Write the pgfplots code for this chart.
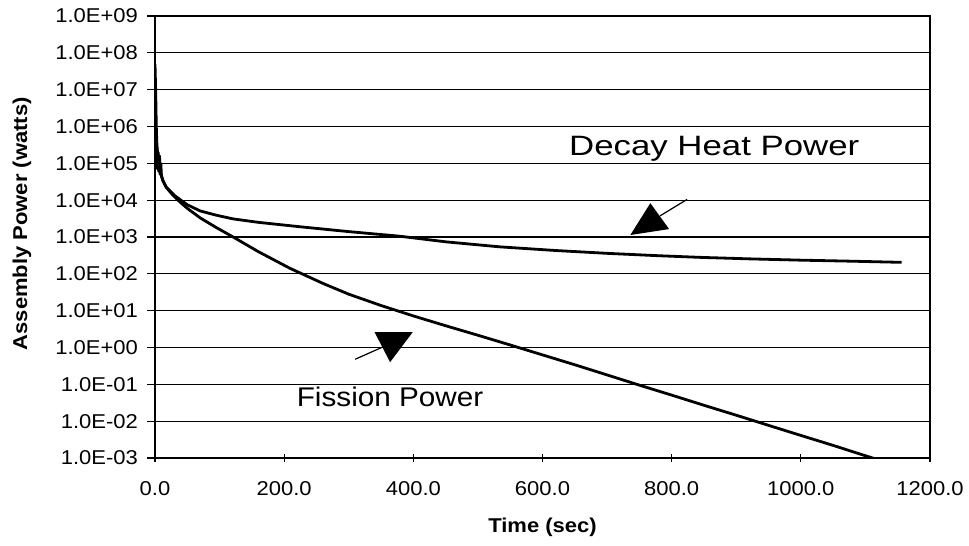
\documentclass[border=0pt]{standalone}
\usepackage{fontspec}
\setmainfont{Liberation Sans}[FakeStretch=1.1]
\usepackage{graphicx}
\usepackage{pgfplots}
\pgfplotsset{compat=1.18}

\pgfplotstableread{
t P
0 5e7
1 1e7
2 1e6
3 3e5
5 1.2e5
8 6e4
12 3.5e4
17 2.3e4
23 1.7e4
30 1.25e4
40 8.5e3
50 6e3
70 3.3e3
95 1.8e3
121 1e3
160 4e2
209 1.41e2
260 5.5e1
300 2.8e1
350 1.38e1
400 7.2
450 3.9
500 2.15
550 1.17
600 0.63
650 0.34
700 0.18
750 0.095
800 0.051
850 0.027
900 0.0145
950 0.0077
1000 0.0041
1050 0.0022
1100 0.00115
1153 0.00059
}\fission

\pgfplotstableread{
t P
0 1e5
0.5 3e5
1 1e5
1.5 2.5e5
2 8e4
3 2.8e5
4 7e4
5 2e5
6 6e4
7 1.6e5
8 5e4
9 1e5
10 4.5e4
12 3.5e4
17 2.3e4
23 1.8e4
30 1.35e4
40 1e4
50 7.5e3
70 5.1e3
95 3.9e3
121 3.1e3
160 2.5e3
224 1.9e3
300 1.4e3
379 1.05e3
450 7.4e2
534 5.4e2
620 4.3e2
700 3.6e2
780 3.1e2
844 2.8e2
920 2.55e2
1000 2.35e2
1080 2.2e2
1156 2.05e2
}\decay

\begin{document}
\begin{tikzpicture}
\begin{axis}[
  name=ax,
  scale only axis,
  width=387.5pt, height=221pt,
  xmin=0, xmax=1200, ymin=1e-3, ymax=1e9,
  ymode=log,
  xtick={0,200,400,600,800,1000,1200},
  xticklabels={0.0,200.0,400.0,600.0,800.0,1000.0,1200.0},
  ytick={1e-3,1e-2,1e-1,1,1e1,1e2,1e3,1e4,1e5,1e6,1e7,1e8,1e9},
  yticklabels={1.0E-03,1.0E-02,1.0E-01,1.0E+00,1.0E+01,1.0E+02,1.0E+03,1.0E+04,1.0E+05,1.0E+06,1.0E+07,1.0E+08,1.0E+09},
  yminorticks=false,
  ymajorgrids,
  grid style={black, line width=0.65pt},
  axis line style={black, line width=0.8pt},
  tick style={black, line width=0.6pt},
  major tick length=4pt,
  tick align=center,
  y tick style={xshift=-2pt},
  xtick pos=bottom, ytick pos=left,
  tick label style={font=\fontsize{10}{12}\selectfont},
  yticklabel style={xshift=-3pt},
  xticklabel style={yshift=-6pt},
  xlabel={Time (sec)},
  ylabel={Assembly Power (watts)},
  every axis x label/.style={at={(rel axis cs:0.5,0)}, anchor=center, yshift=-34.5pt, font=\fontsize{10}{12}\selectfont\bfseries},
  every axis y label/.style={at={(rel axis cs:0,0.53)}, rotate=90, anchor=center, yshift=66.5pt, font=\fontsize{10}{12}\selectfont\bfseries},
]
\addplot[black, line width=1.4pt, line join=round] table[x=t,y=P] {\decay};
\addplot[black, line width=1.4pt, line join=round] table[x=t,y=P] {\fission};

\node[font=\fontsize{14}{16}\selectfont] at (axis cs:866,2.45e5) {\scalebox{1.13}[1]{Decay Heat Power}};
\fill (axis cs:767,8.3e3) -- (axis cs:736,1.13e3) -- (axis cs:796,1.64e3) -- cycle;
\draw[line width=0.6pt] (axis cs:782,3.75e3) -- (axis cs:824,1.05e4);
\fill (axis cs:340,2.6) -- (axis cs:399,2.6) -- (axis cs:364,0.4) -- cycle;
\draw[line width=0.6pt] (axis cs:310,0.48) -- (axis cs:351,1.0);
\node[font=\fontsize{13.5}{16}\selectfont] at (axis cs:364,0.046) {Fission Power};
\end{axis}
\pgfresetboundingbox
\path[use as bounding box] ([xshift=-77.5pt,yshift=-44pt]ax.south west) rectangle ([xshift=19.5pt,yshift=8pt]ax.north east);
\end{tikzpicture}
\end{document}
